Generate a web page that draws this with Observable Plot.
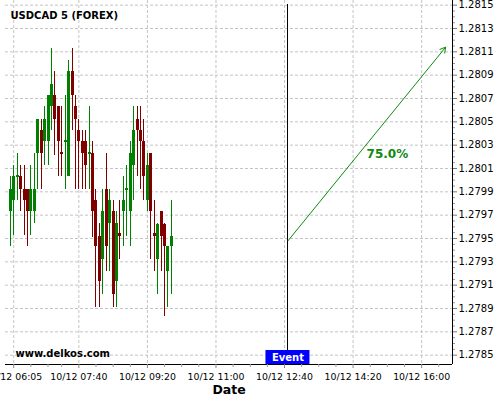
<!DOCTYPE html>
<html>
<head>
<meta charset="utf-8">
<script src="https://cdn.jsdelivr.net/npm/d3@7"></script>
<script src="https://cdn.jsdelivr.net/npm/@observablehq/plot@0.6"></script>
<style>
  html, body { margin: 0; padding: 0; background: #fff; }
  #chart { width: 500px; height: 400px; }
</style>
</head>
<body>
<div id="chart"></div>
<script>
const title = "USDCAD 5 (FOREX)";
const watermark = "www.delkos.com";
const xTitle = "Date";
const datePrefix = "10/12 ";

const times = ["06:00","06:05","06:10","06:15","06:20","06:25","06:30","06:35","06:40","06:45","06:50","06:55",
  "07:00","07:05","07:10","07:15","07:20","07:25","07:30","07:35","07:40","07:45","07:50","07:55",
  "08:00","08:05","08:10","08:15","08:20","08:25","08:30","08:35","08:40","08:45","08:50","08:55",
  "09:00","09:05","09:10","09:15","09:20","09:25","09:30","09:35","09:40","09:45","09:50","09:55"];
const opens  = [1.27973,1.27983,1.28002,1.28003,1.27992,1.27992,1.27973,1.27973,1.28023,1.28043,1.28033,1.28033,
  1.28063,1.28073,1.28063,1.28024,1.28032,1.28003,1.28093,1.28063,1.28043,1.28033,1.28033,1.28022,
  1.28023,1.27983,1.27952,1.27932,1.27992,1.27963,1.27973,1.27913,1.27954,1.27973,1.27991,1.27973,
  1.28013,1.28052,1.28043,1.28033,1.27983,1.28023,1.27954,1.27932,1.27973,1.27962,1.27922,1.27943];
const highs  = [1.28003,1.28013,1.28023,1.28013,1.28013,1.27992,1.28013,1.28023,1.28052,1.28052,1.28063,1.28073,
  1.28113,1.28093,1.28063,1.28063,1.28073,1.28103,1.28113,1.28073,1.28052,1.28043,1.28043,1.28063,
  1.28033,1.27992,1.27963,1.27992,1.28023,1.27992,1.27983,1.27973,1.27983,1.28003,1.28013,1.28033,
  1.28063,1.28063,1.28063,1.28052,1.28023,1.28023,1.27983,1.27963,1.27973,1.27963,1.27943,1.27983];
const lows   = [1.27943,1.27953,1.27983,1.27973,1.27953,1.27943,1.27953,1.27963,1.27992,1.27992,1.28013,1.28013,
  1.28043,1.28021,1.28003,1.28003,1.27992,1.28003,1.28043,1.27992,1.27992,1.27992,1.27992,1.27992,
  1.27951,1.27891,1.27891,1.27902,1.27922,1.27922,1.27891,1.27891,1.27932,1.27943,1.27952,1.27943,
  1.27983,1.28003,1.27992,1.27983,1.27973,1.27932,1.27922,1.27902,1.27922,1.27883,1.27891,1.27902];
const closes = [1.27992,1.28003,1.28004,1.27992,1.27983,1.27973,1.27992,1.27992,1.28052,1.28023,1.28052,1.28073,
  1.28082,1.28052,1.28033,1.28022,1.28034,1.28093,1.28073,1.28052,1.28033,1.28023,1.28013,1.28024,
  1.27973,1.27943,1.27913,1.27973,1.27943,1.27983,1.27902,1.27963,1.27952,1.27983,1.27993,1.28023,
  1.28043,1.28043,1.28033,1.28003,1.28013,1.27973,1.27952,1.27962,1.27952,1.27943,1.27943,1.27952];

const xTickTimes = ["06:05","07:40","09:20","11:00","12:40","14:20","16:00"];
const xMinorTimes = ["06:30","06:55","07:15","08:05","08:30","08:55","09:45","10:10","10:35","11:25","11:50","12:15",
  "13:05","13:30","13:55","14:45","15:10","15:35","16:25"];
const yTicks = [1.2785,1.2787,1.2789,1.2791,1.2793,1.2795,1.2797,1.2799,1.2801,1.2803,1.2805,1.2807,1.2809,1.2811,1.2813,1.2815];
const yMinorTicks = [];
const xDomainTimes = ["05:53","16:45"];
const yDomain = [1.27842, 1.28154];

const eventTime = "12:45";
const eventTop = 1.28151;
const eventBoxTop = 1.27854;
const eventLabel = "Event";
const arrowStart = {time: "12:45", price: 1.27948};
const arrowEnd = {time: "16:35", price: 1.28114};
const pctLabel = {time: "15:10", price: 1.28022, text: "75.0%"};

const day = "2021-10-12T";
const T = s => new Date(day + s + ":00Z");

for (let k = 0; k < yTicks.length - 1; k++) {
  for (let j = 1; j < 4; j++) yMinorTicks.push(+(yTicks[k] + j * 0.00005).toFixed(5));
}

const candles = times.map((t, i) => ({
  t: T(t), open: opens[i], high: highs[i], low: lows[i], close: closes[i],
  color: closes[i] >= opens[i] ? "#008000" : "#800000"
}));

const green = "#108a10";
const fmtTime = d3.utcFormat("%H:%M");

const chart = Plot.plot({
  width: 500,
  height: 400,
  marginLeft: 5,
  marginRight: 48,
  marginTop: 0,
  marginBottom: 36,
  style: {fontFamily: "DejaVu Sans", background: "#fff", color: "#000"},
  x: {type: "utc", domain: xDomainTimes.map(T), axis: null},
  y: {domain: yDomain, axis: null},
  marks: [
    Plot.gridY(yTicks, {stroke: "#c4c4c4", strokeOpacity: 1, strokeDasharray: "3,2"}),
    Plot.gridX(xTickTimes.map(T), {stroke: "#c4c4c4", strokeOpacity: 1, strokeDasharray: "3,2"}),
    Plot.ruleX(candles, {x: "t", y1: "low", y2: "high", stroke: "color", strokeWidth: 1, shapeRendering: "crispEdges"}),
    Plot.ruleX(candles, {x: "t", y1: "open", y2: "close", stroke: "color", strokeWidth: 3, shapeRendering: "crispEdges"}),
    Plot.ruleX([T(eventTime)], {y1: eventTop, y2: eventBoxTop, stroke: "#000", strokeWidth: 1, shapeRendering: "crispEdges"}),
    Plot.arrow([0], {x1: () => T(arrowStart.time), y1: () => arrowStart.price,
      x2: () => T(arrowEnd.time), y2: () => arrowEnd.price, stroke: green, strokeWidth: 1, headLength: 9}),
    Plot.text([pctLabel], {x: d => T(d.time), y: "price", text: "text", fill: green,
      fontWeight: "bold", fontSize: 12, textAnchor: "middle"}),
    Plot.rect([0], {x1: () => T(eventTime), x2: () => T(eventTime), y1: () => yDomain[0], y2: () => yDomain[0],
      insetLeft: -22, insetRight: -22, insetTop: -14, fill: "#0000ff"}),
    Plot.text([eventLabel], {x: () => T(eventTime), y: () => yDomain[0], dy: -7, fill: "#fff",
      fontWeight: "bold", fontSize: 10, text: d => d}),
    Plot.ruleY([yDomain[0]], {stroke: "#000", strokeWidth: 1}),
    Plot.ruleX([T(xDomainTimes[1])], {stroke: "#000", strokeWidth: 1}),
    Plot.axisY(yMinorTicks, {anchor: "right", tickSize: 2, tickFormat: () => "", stroke: "#999", label: null}),
    Plot.axisY(yTicks, {anchor: "right", tickSize: 4, tickPadding: 2, tickFormat: d3.format(".4f"),
      fontSize: 10, stroke: "#777", label: null}),
    Plot.axisX(xMinorTimes.map(T), {anchor: "bottom", tickSize: 3, tickFormat: () => "", stroke: "#999", label: null}),
    Plot.axisX(xTickTimes.map(T), {anchor: "bottom", tickSize: 4, tickPadding: 4.5,
      tickFormat: d => datePrefix + fmtTime(d), fontSize: 9.4, stroke: "#888", label: null}),
    Plot.text([title], {frameAnchor: "top-left", dx: 5, dy: 15, lineAnchor: "middle", textAnchor: "start",
      fontWeight: "bold", fontSize: 10, text: d => d}),
    Plot.text([watermark], {frameAnchor: "bottom-left", dx: 10, dy: -10.5, lineAnchor: "middle", textAnchor: "start",
      fontWeight: "bold", fontSize: 10, text: d => d}),
    Plot.text([xTitle], {frameAnchor: "bottom", dy: 25, lineAnchor: "middle",
      fontWeight: "bold", fontSize: 12.5, text: d => d})
  ]
});
document.getElementById("chart").appendChild(chart);
</script>
</body>
</html>
